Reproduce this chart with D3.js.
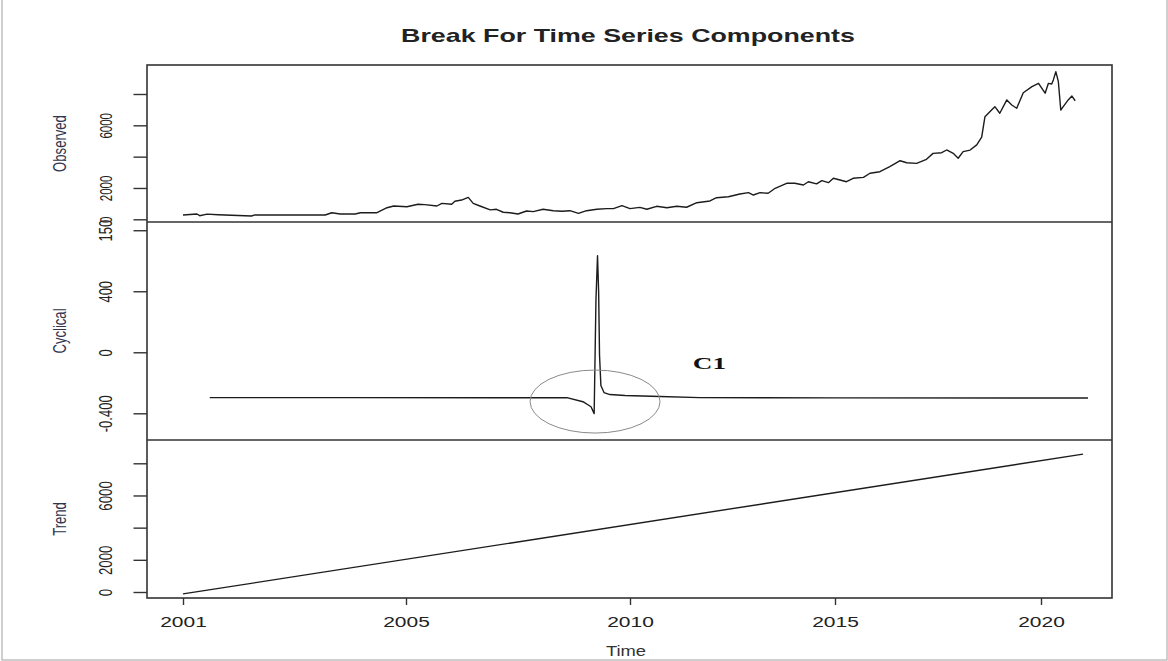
<!DOCTYPE html>
<html><head><meta charset="utf-8">
<script src="https://cdn.jsdelivr.net/npm/d3@7"></script>
<style>
html,body{margin:0;padding:0;background:#fff;}
svg{display:block;font-family:"Liberation Sans",Arial,Helvetica,sans-serif;}
</style>
</head><body>
<svg id="c" width="1168" height="661"></svg>
<script>
// ---------------- DATA ----------------
const chartTitle = "Break For Time Series Components";
const xTitle = "Time";
const panelTitles = ["Observed", "Cyclical", "Trend"];
const xTickYears = [2001, 2005, 2010, 2015, 2020];

const observed = [
  [2001.00,275],[2001.25,340],[2001.30,230],[2001.43,330],[2001.63,290],[2002.23,210],[2002.29,280],
  [2003.55,275],[2003.67,420],[2003.82,340],[2004.09,340],[2004.18,420],[2004.48,420],[2004.66,740],
  [2004.78,850],[2005.02,800],[2005.27,960],[2005.42,940],[2005.69,850],[2005.80,1020],[2006.02,960],
  [2006.09,1150],[2006.24,1230],[2006.39,1400],[2006.50,1020],[2006.65,850],[2006.88,600],[2007.02,640],
  [2007.17,450],[2007.32,420],[2007.50,340],[2007.69,530],[2007.84,490],[2008.06,640],[2008.29,550],
  [2008.48,510],[2008.66,550],[2008.85,380],[2009.03,550],[2009.26,640],[2009.48,680],[2009.63,680],
  [2009.82,870],[2010.00,680],[2010.24,760],[2010.41,640],[2010.65,830],[2010.90,740],[2011.14,830],
  [2011.38,770],[2011.63,1060],[2011.95,1170],[2012.11,1380],[2012.40,1440],[2012.68,1615],[2012.89,1700],
  [2013.01,1550],[2013.17,1700],[2013.37,1660],[2013.54,1980],[2013.82,2300],[2014.02,2300],[2014.23,2190],
  [2014.35,2400],[2014.55,2260],[2014.68,2470],[2014.84,2340],[2014.96,2620],[2015.12,2510],[2015.28,2400],
  [2015.44,2620],[2015.69,2680],[2015.85,2940],[2016.09,3040],[2016.33,3360],[2016.58,3740],[2016.74,3610],
  [2016.98,3570],[2017.22,3830],[2017.38,4210],[2017.59,4250],[2017.71,4425],[2017.87,4210],[2017.99,3900],
  [2018.11,4320],[2018.28,4420],[2018.44,4750],[2018.56,5240],[2018.64,6550],[2018.80,6980],[2018.88,7190],
  [2019.00,6770],[2019.17,7620],[2019.29,7300],[2019.41,7090],[2019.57,8080],[2019.78,8470],[2019.94,8680],
  [2020.10,8050],[2020.18,8680],[2020.26,8640],[2020.30,8900],[2020.36,9430],[2020.42,8810],[2020.48,6980],
  [2020.54,7190],[2020.66,7620],[2020.75,7870],[2020.83,7570]
];

const cyclical = [
  [2001.48,-297],[2004.00,-297],[2007.00,-298],[2008.59,-297],[2008.95,-324],[2009.13,-357],
  [2009.20,-402],[2009.24,343],[2009.275,633],[2009.30,396],[2009.32,-20],[2009.35,-218],
  [2009.42,-264],[2009.55,-277],[2009.89,-283],[2010.73,-290],[2011.70,-297],[2015.00,-299],[2021.14,-300]
];

const trend = [[2001.00,-120],[2021.02,8570]];

const obsTicks = [0, 2000, 4000, 6000, 8000];
const obsTickLabels = ["0", "2000", "", "6000", ""];
const cycTicks = [-400, 0, 400, 800];
const cycTickLabels = ["-0.400", "0", "400", "150"];
const trendTicks = [0, 2000, 4000, 6000, 8000];
const trendTickLabels = ["0", "2000", "", "6000", ""];

const annotationText = "C1";
const annotationCenter = [2009.22, -323];   // ellipse centre (year, value)
const annotationLabelAt = [2011.53, -111];  // label position (year, value)

// ---------------- LAYOUT ----------------
const W = 1168, H = 661;
const plotL = 147, plotR = 1112;
const xRange = [183, 406, 630, 835, 1041];
const svg = d3.select("#c");
svg.append("rect").attr("width", W).attr("height", H).attr("fill", "#fff");
svg.append("rect").attr("x", 2).attr("y", -3).attr("width", 1165).attr("height", 663)
  .attr("fill", "none").attr("stroke", "#b0b0b0").attr("stroke-width", 1.2);

const x = d3.scaleLinear().domain(xTickYears).range(xRange);

const panels = [
  {name: panelTitles[0], data: observed, top: 65, bottom: 222, domain: [-172, 9851],
   ticks: obsTicks, labels: obsTickLabels, fs: 11.5, sx: 1.45},
  {name: panelTitles[1], data: cyclical, top: 222, bottom: 440, domain: [-575, 854],
   ticks: cycTicks, labels: cycTickLabels, fs: 13, sx: 1.35},
  {name: panelTitles[2], data: trend, top: 440, bottom: 598, domain: [-373, 9448],
   ticks: trendTicks, labels: trendTickLabels, fs: 13.3, sx: 1.33}
];

function stretchedText(g, str, tx, ty, sx, rot) {
  return g.append("text")
    .attr("transform", `translate(${tx},${ty}) scale(${sx},1)` + (rot ? ` rotate(${rot})` : ""))
    .attr("text-anchor", "middle")
    .text(str);
}

panels.forEach(p => {
  p.y = d3.scaleLinear().domain(p.domain).range([p.bottom, p.top]);

  // series line
  const line = d3.line().x(d => x(d[0])).y(d => p.y(d[1]));
  svg.append("path").datum(p.data).attr("d", line)
    .attr("fill", "none").attr("stroke", "#1c1c1c").attr("stroke-width", 1.4)
    .attr("stroke-linejoin", "round");

  // y axis
  const ax = d3.axisLeft(p.y).tickValues(p.ticks).tickSize(13.5).tickFormat((d, i) => p.labels[i]);
  const ag = svg.append("g").attr("transform", `translate(${plotL},0)`).call(ax);
  ag.select(".domain").remove();
  ag.selectAll(".tick line").attr("stroke", "#333").attr("stroke-width", 1.4);
  ag.selectAll(".tick text").remove();
  ag.selectAll(".tick").each(function(d, i) {
    const t = stretchedText(d3.select(this), p.labels[i], -35, 0, p.sx, -90)
      .attr("font-size", p.fs).attr("fill", "#222");
  });

  // panel title
  stretchedText(svg, p.name, 66, (p.top + p.bottom) / 2, 1.42, -90)
    .attr("font-size", 13.1).attr("fill", "#30344e");
});

// frame and separators
svg.append("rect").attr("x", plotL).attr("y", 65).attr("width", plotR - plotL).attr("height", 598 - 65)
  .attr("fill", "none").attr("stroke", "#333").attr("stroke-width", 1.6);
[222, 440].forEach(yy => svg.append("line").attr("x1", plotL).attr("x2", plotR)
  .attr("y1", yy).attr("y2", yy).attr("stroke", "#333").attr("stroke-width", 1.6));

// x axis
const xa = d3.axisBottom(x).tickValues(xTickYears).tickSize(7).tickFormat(d3.format("d"));
const xg = svg.append("g").attr("transform", "translate(0,598)").call(xa);
xg.select(".domain").remove();
xg.selectAll(".tick line").attr("stroke", "#333").attr("stroke-width", 1.4);
xg.selectAll(".tick text").remove();
xg.selectAll(".tick").each(function(d) {
  stretchedText(d3.select(this), d3.format("d")(d), 0, 28.5, 1.4, 0)
    .attr("font-size", 15).attr("fill", "#222");
});

// titles
stretchedText(svg, chartTitle, 628, 42, 1.49, 0)
  .attr("font-size", 18).attr("font-weight", "bold").attr("fill", "#222");
stretchedText(svg, xTitle, 626, 656, 1.31, 0)
  .attr("font-size", 14).attr("fill", "#333");

// annotation
const cp = panels[1];
svg.append("ellipse").attr("cx", x(annotationCenter[0])).attr("cy", cp.y(annotationCenter[1]))
  .attr("rx", 65).attr("ry", 31.5).attr("fill", "none").attr("stroke", "#8a8a8a").attr("stroke-width", 1);
svg.append("text")
  .attr("transform", `translate(${x(annotationLabelAt[0])},${cp.y(annotationLabelAt[1])}) scale(1.65,1)`)
  .attr("font-family", "'Liberation Serif','Times New Roman',serif").attr("font-weight", "bold")
  .attr("font-size", 16.5).attr("fill", "#111").text(annotationText);
</script>
</body></html>
